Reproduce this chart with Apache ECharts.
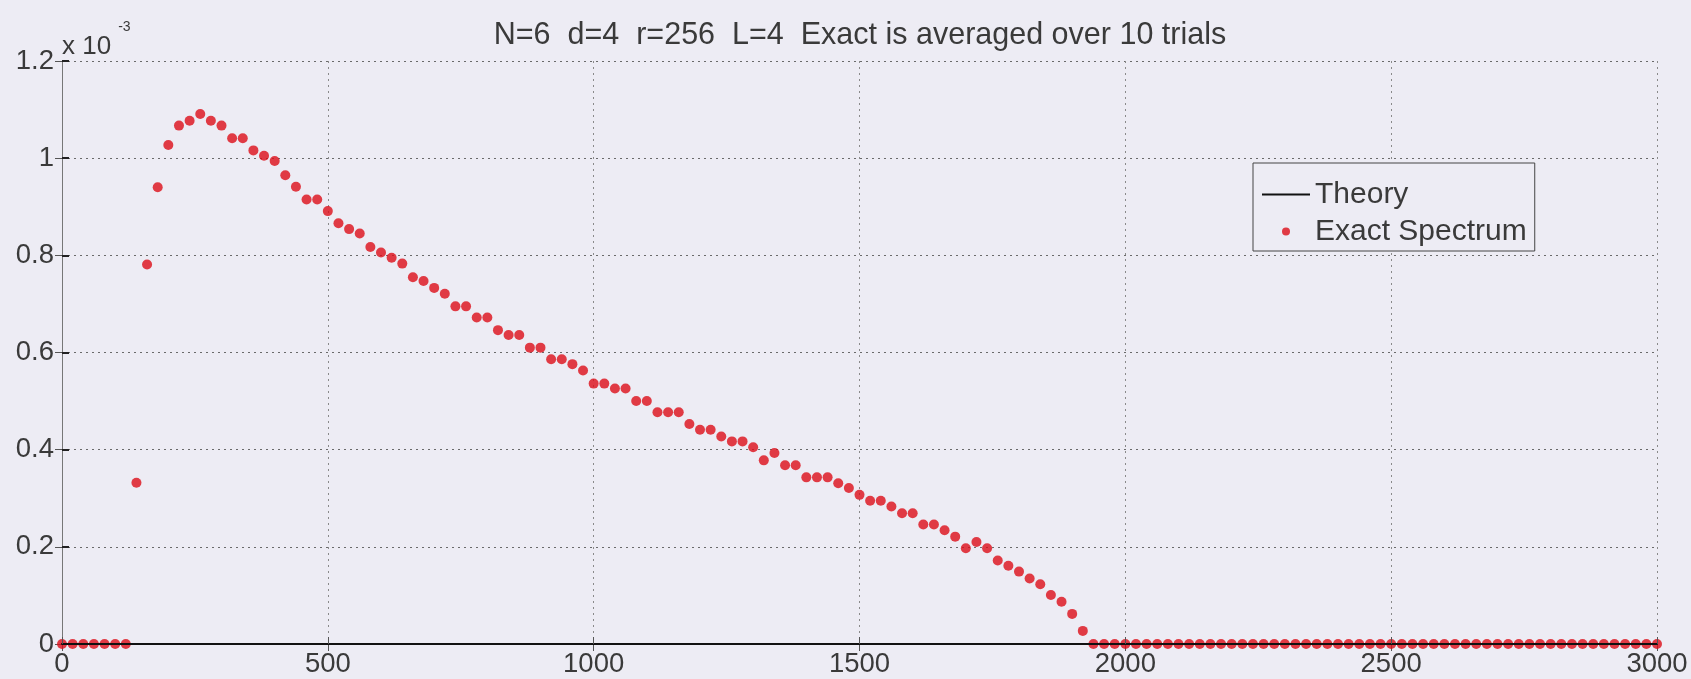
<!DOCTYPE html>
<html>
<head>
<meta charset="utf-8">
<script src="https://cdn.jsdelivr.net/npm/echarts@6/dist/echarts.min.js"></script>
<style>
  html, body { margin: 0; padding: 0; background: #edecf4; }
  #chart { width: 1691px; height: 679px; }
</style>
</head>
<body>
<div id="chart"></div>
<script>
// Energy bins (x) and averaged exact spectrum values (in units of 1e-3)
const energies = [
  0, 20, 40, 60, 80, 100, 120, 140, 160, 180,
  200, 220, 240, 260, 280, 300, 320, 340, 360, 380,
  400, 420, 440, 460, 480, 500, 520, 540, 560, 580,
  600, 620, 640, 660, 680, 700, 720, 740, 760, 780,
  800, 820, 840, 860, 880, 900, 920, 940, 960, 980,
  1000, 1020, 1040, 1060, 1080, 1100, 1120, 1140, 1160, 1180,
  1200, 1220, 1240, 1260, 1280, 1300, 1320, 1340, 1360, 1380,
  1400, 1420, 1440, 1460, 1480, 1500, 1520, 1540, 1560, 1580,
  1600, 1620, 1640, 1660, 1680, 1700, 1720, 1740, 1760, 1780,
  1800, 1820, 1840, 1860, 1880, 1900, 1920, 1940, 1960, 1980,
  2000, 2020, 2040, 2060, 2080, 2100, 2120, 2140, 2160, 2180,
  2200, 2220, 2240, 2260, 2280, 2300, 2320, 2340, 2360, 2380,
  2400, 2420, 2440, 2460, 2480, 2500, 2520, 2540, 2560, 2580,
  2600, 2620, 2640, 2660, 2680, 2700, 2720, 2740, 2760, 2780,
  2800, 2820, 2840, 2860, 2880, 2900, 2920, 2940, 2960, 2980,
  3000
];
const exactSpectrum = [
  0, 0, 0, 0, 0, 0, 0, 0.332, 0.781, 0.940,
  1.027, 1.067, 1.077, 1.091, 1.077, 1.067, 1.041, 1.041, 1.016, 1.005,
  0.994, 0.965, 0.941, 0.915, 0.915, 0.891, 0.866, 0.854, 0.845, 0.817,
  0.806, 0.795, 0.783, 0.755, 0.747, 0.733, 0.721, 0.695, 0.695, 0.672,
  0.672, 0.646, 0.636, 0.636, 0.610, 0.610, 0.586, 0.586, 0.576, 0.563,
  0.536, 0.536, 0.526, 0.526, 0.500, 0.500, 0.477, 0.477, 0.477, 0.453,
  0.441, 0.441, 0.427, 0.417, 0.417, 0.405, 0.378, 0.393, 0.368, 0.368,
  0.343, 0.343, 0.343, 0.331, 0.321, 0.307, 0.295, 0.295, 0.283, 0.269,
  0.269, 0.246, 0.246, 0.234, 0.221, 0.197, 0.210, 0.197, 0.172, 0.161,
  0.149, 0.135, 0.123, 0.101, 0.087, 0.062, 0.027, 0, 0, 0,
  0, 0, 0, 0, 0, 0, 0, 0, 0, 0,
  0, 0, 0, 0, 0, 0, 0, 0, 0, 0,
  0, 0, 0, 0, 0, 0, 0, 0, 0, 0,
  0, 0, 0, 0, 0, 0, 0, 0, 0, 0,
  0, 0, 0, 0, 0, 0, 0, 0, 0, 0,
  0
];
const theoryPoints = []; // theory curve not visible in the figure
const seriesNames = ['Theory', 'Exact Spectrum'];
const titleText = 'N=6  d=4  r=256  L=4  Exact is averaged over 10 trials';
const xTicks = { min: 0, max: 3000, interval: 500 };
const yTicks = { min: 0, max: 1.2, interval: 0.2 };

const FONT = "'Liberation Sans', Arial, sans-serif";
const BG = '#edecf4';
const RED = '#dc0e18';

const chart = echarts.init(document.getElementById('chart'), null, { renderer: 'canvas' });

const grid = { left: 62, right: 34, top: 61, bottom: 35, containLabel: false };

const exactData = energies.map((x, i) => [x, exactSpectrum[i]]);

const option = {
  backgroundColor: BG,
  animation: false,
  title: {
    text: titleText,
    left: 855,
    top: 15,
    textAlign: 'center',
    textStyle: { fontFamily: FONT, fontSize: 30.5, fontWeight: 'normal', color: '#3a3a3a' }
  },
  grid: grid,
  legend: {
    orient: 'vertical',
    left: 1253,
    top: 163,
    padding: [16, 8, 4, 9],
    itemGap: 6,
    itemWidth: 48,
    itemHeight: 8,
    backgroundColor: BG,
    borderColor: '#444',
    borderWidth: 1,
    borderRadius: 0,
    textStyle: { fontFamily: FONT, fontSize: 30, color: '#3a3a3a', lineHeight: 31 },
    data: [
      { name: seriesNames[0], icon: 'path://M0,0H48V2H0Z', symbolKeepAspect: true,
        itemStyle: { color: '#111' } },
      { name: seriesNames[1], icon: 'circle', itemStyle: { color: RED } }
    ]
  },
  xAxis: [
    {
      type: 'value', position: 'bottom',
      min: xTicks.min, max: xTicks.max, interval: xTicks.interval,
      z: 5,
      axisLine: { show: true, lineStyle: { color: '#111', width: 2 } },
      axisTick: { show: true, inside: true, length: 7, lineStyle: { color: '#555' } },
      axisLabel: { fontFamily: FONT, fontSize: 27.5, color: '#3a3a3a', margin: 6,
                   formatter: function (v) { return String(v); } },
      splitLine: { show: false }
    },
    {
      type: 'value', position: 'top',
      min: xTicks.min, max: xTicks.max, interval: xTicks.interval,
      axisLine: { show: true, lineStyle: { color: '#111', width: 2 } },
      axisTick: { show: true, inside: true, length: 7, lineStyle: { color: '#555' } },
      axisLabel: { show: false },
      splitLine: { show: true, lineStyle: { color: '#8a8a8a', type: [2, 4], width: 1 } }
    }
  ],
  yAxis: [
    {
      type: 'value', position: 'left',
      min: yTicks.min, max: yTicks.max, interval: yTicks.interval,
      axisLine: { show: true, lineStyle: { color: '#777', width: 1 } },
      axisTick: { show: true, inside: true, length: 7, lineStyle: { color: '#222', width: 2 } },
      axisLabel: { fontFamily: FONT, fontSize: 27.5, color: '#3a3a3a', margin: 8 },
      splitLine: { show: true, lineStyle: { color: '#6a6a6a', type: [2, 4], width: 1 } },
      name: '{a|x 10}{b|-3}',
      nameLocation: 'end',
      nameGap: 1,
      nameTextStyle: {
        align: 'left',
        verticalAlign: 'bottom',
        padding: [0, 0, 0, 0],
        rich: {
          a: { fontFamily: FONT, fontSize: 26, color: '#3a3a3a', verticalAlign: 'bottom' },
          b: { fontFamily: FONT, fontSize: 14, color: '#3a3a3a', padding: [0, 0, 26, 7] }
        }
      }
    },
    {
      type: 'value', position: 'right',
      min: yTicks.min, max: yTicks.max, interval: yTicks.interval,
      axisLine: { show: true, lineStyle: { color: '#777', width: 1 } },
      axisTick: { show: true, inside: true, length: 7, lineStyle: { color: '#555' } },
      axisLabel: { show: false },
      splitLine: { show: false }
    }
  ],
  series: [
    {
      name: seriesNames[0],
      type: 'line',
      xAxisIndex: 0, yAxisIndex: 0,
      data: theoryPoints,
      symbol: 'none',
      lineStyle: { color: '#111', width: 2 },
      itemStyle: { color: '#111' }
    },
    {
      name: seriesNames[1],
      type: 'scatter',
      xAxisIndex: 0, yAxisIndex: 0,
      data: exactData,
      symbol: 'circle',
      symbolSize: 10,
      itemStyle: { color: RED }
    }
  ]
};

chart.setOption(option);
</script>
</body>
</html>
